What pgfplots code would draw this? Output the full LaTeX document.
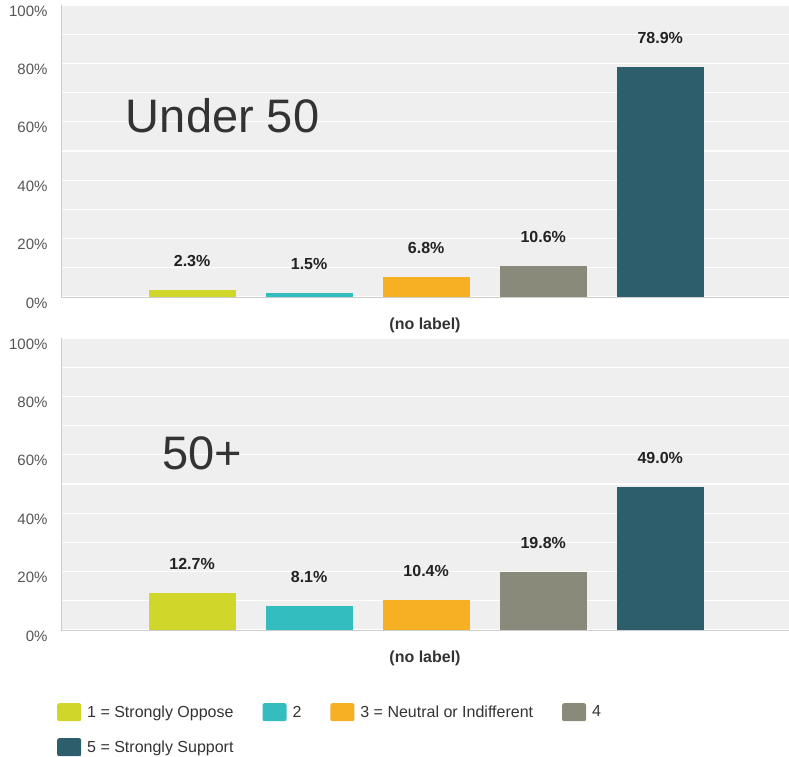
\documentclass[border=0pt]{standalone}
\usepackage{fontspec}
\setmainfont{Liberation Sans}
\usepackage{pgfplots}
\pgfplotsset{compat=1.18}

\definecolor{c1}{HTML}{D0D62A}
\definecolor{c2}{HTML}{33BDBF}
\definecolor{c3}{HTML}{F7B023}
\definecolor{c4}{HTML}{898A79}
\definecolor{c5}{HTML}{2D5E6B}
\definecolor{bggray}{HTML}{EFEFEF}
\definecolor{axisgray}{HTML}{CCCCCC}
\definecolor{ticktext}{HTML}{555555}
\definecolor{darktext}{HTML}{333333}
\definecolor{valtext}{HTML}{222222}

\tikzset{bigtitle/.style={anchor=base west, inner sep=0pt, font=\fontsize{47}{56}\selectfont, text=darktext}}

\pgfplotsset{
  panel/.style={
    scale only axis, width=728pt, height=292pt,
    xmin=-0.12, xmax=6.1, ymin=0, ymax=100,
    ybar, bar width=0.744, bar shift=0pt,
    xtick=\empty,
    ytick={0,20,...,100}, minor ytick={10,30,...,90},
    grid=both,
    major grid style={white, line width=1.2pt},
    minor grid style={white, line width=1.2pt},
    major tick length=0pt, minor tick length=0pt,
    axis background/.style={fill=bggray},
    axis x line*=bottom, axis y line*=left,
    axis line style={draw=axisgray, line width=0.8pt, -},
    yticklabel={\pgfmathprintnumber[assume math mode=true]{\tick}\%},
    yticklabel style={font=\fontsize{15}{18}\selectfont, text=ticktext, anchor=east, xshift=-10pt, yshift=-6pt},
    xlabel={(no label)},
    every axis x label/.style={at={(axis description cs:0.5,0)}, anchor=center, yshift=-28pt,
      font=\bfseries\fontsize{16}{19}\selectfont, text=darktext},
    nodes near coords={\pgfmathprintnumber[fixed,fixed zerofill,precision=1,assume math mode=true]{\pgfplotspointmeta}\%},
    every node near coord/.append style={anchor=center, yshift=29pt,
      font=\bfseries\fontsize{16}{19}\selectfont, text=valtext},
    clip=false,
  },
}

\begin{document}
\begin{tikzpicture}
\useasboundingbox (0,0) rectangle (789pt,756pt);

% top panel: under 50
\begin{axis}[panel, at={(61pt,459pt)}, anchor=south west]
\addplot[fill=c1, draw=none] coordinates {(1,2.3)};
\addplot[fill=c2, draw=none] coordinates {(2,1.5)};
\addplot[fill=c3, draw=none] coordinates {(3,6.8)};
\addplot[fill=c4, draw=none] coordinates {(4,10.6)};
\addplot[fill=c5, draw=none] coordinates {(5,78.9)};
\node[bigtitle] at (rel axis cs:0.089,0.565) {Under 50};
\end{axis}

% bottom panel: 50+
\begin{axis}[panel, at={(61pt,126pt)}, anchor=south west,
  legend columns=4,
  legend cell align=left,
  legend image code/.code={\fill[#1, rounded corners=2pt] (0pt,-9pt) rectangle (24pt,9pt);},
  legend style={at={(axis description cs:0,0)}, anchor=north west, xshift=-4pt, yshift=-73pt,
    draw=none, fill=none, inner sep=0pt, font=\fontsize{16}{19}\selectfont, text=darktext,
    /tikz/every odd column/.append style={column sep=4pt},
    /tikz/every even column/.append style={column sep=27pt}, row sep=17pt},
]
\addplot[fill=c1, draw=none] coordinates {(1,12.7)};
\addplot[fill=c2, draw=none] coordinates {(2,8.1)};
\addplot[fill=c3, draw=none] coordinates {(3,10.4)};
\addplot[fill=c4, draw=none] coordinates {(4,19.8)};
\addplot[fill=c5, draw=none] coordinates {(5,49.0)};
\legend{1 = Strongly Oppose, 2, 3 = Neutral or Indifferent, 4, 5 = Strongly Support}
\node[bigtitle] at (rel axis cs:0.139,0.551) {50+};
\end{axis}
\end{tikzpicture}
\end{document}
